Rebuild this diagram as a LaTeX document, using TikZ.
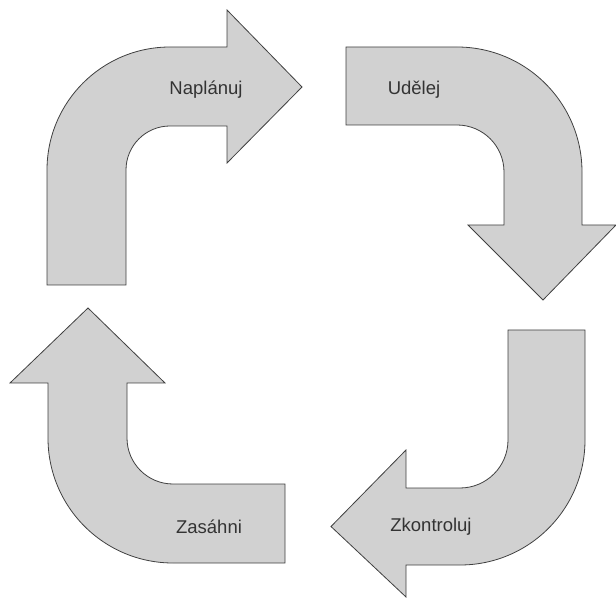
\documentclass[tikz,border=0pt]{standalone}
\usepackage{fontspec}
\setmainfont{Liberation Sans}
\begin{document}
\begin{tikzpicture}[x=1pt,y=1pt,
  bentarrow/.style={draw=black!75,line width=0.8pt,fill=black!18,line join=miter},
  lbl/.style={font=\fontsize{18.5}{20}\selectfont,text=black!80,inner sep=0pt}]
\useasboundingbox (0,0) rectangle (616,603);
% Naplanuj (top-left, pointing right)
\draw[bentarrow] (47,318) -- (47,433) arc[start angle=180,end angle=90,radius=123]
  -- (227,556) -- (227,593) -- (302,516) -- (227,440) -- (227,477) -- (170,477)
  arc[start angle=90,end angle=180,radius=44] -- (126,318) -- cycle;
% Udelej (top-right, pointing down)
\draw[bentarrow] (346,556) -- (457,556) arc[start angle=90,end angle=0,radius=125]
  -- (582,378) -- (616,378) -- (543,303) -- (468,378) -- (504,378) -- (504,431)
  arc[start angle=0,end angle=90,radius=47] -- (346,478) -- cycle;
% Zkontroluj (bottom-right, pointing left)
\draw[bentarrow] (508,273) -- (585,273) -- (585,163) arc[start angle=0,end angle=-90,radius=125]
  -- (406,38) -- (406,6) -- (331,76.5) -- (406,153) -- (406,115) -- (460,115)
  arc[start angle=-90,end angle=0,radius=48] -- cycle;
% Zasahni (bottom-left, pointing up)
\draw[bentarrow] (285,40) -- (173,40) arc[start angle=270,end angle=180,radius=125]
  -- (48,220) -- (10,220) -- (88,295) -- (165,220) -- (127,220) -- (127,165)
  arc[start angle=180,end angle=270,radius=46] -- (285,119) -- cycle;
\node[lbl] (plan) at (206,513) {Naplánuj};
\node[lbl] (do) at (414,513) {Udělej};
\node[lbl] (check) at (431,76) {Zkontroluj};
\node[lbl] (act) at (209,76) {Zasáhni};
\end{tikzpicture}
\end{document}
